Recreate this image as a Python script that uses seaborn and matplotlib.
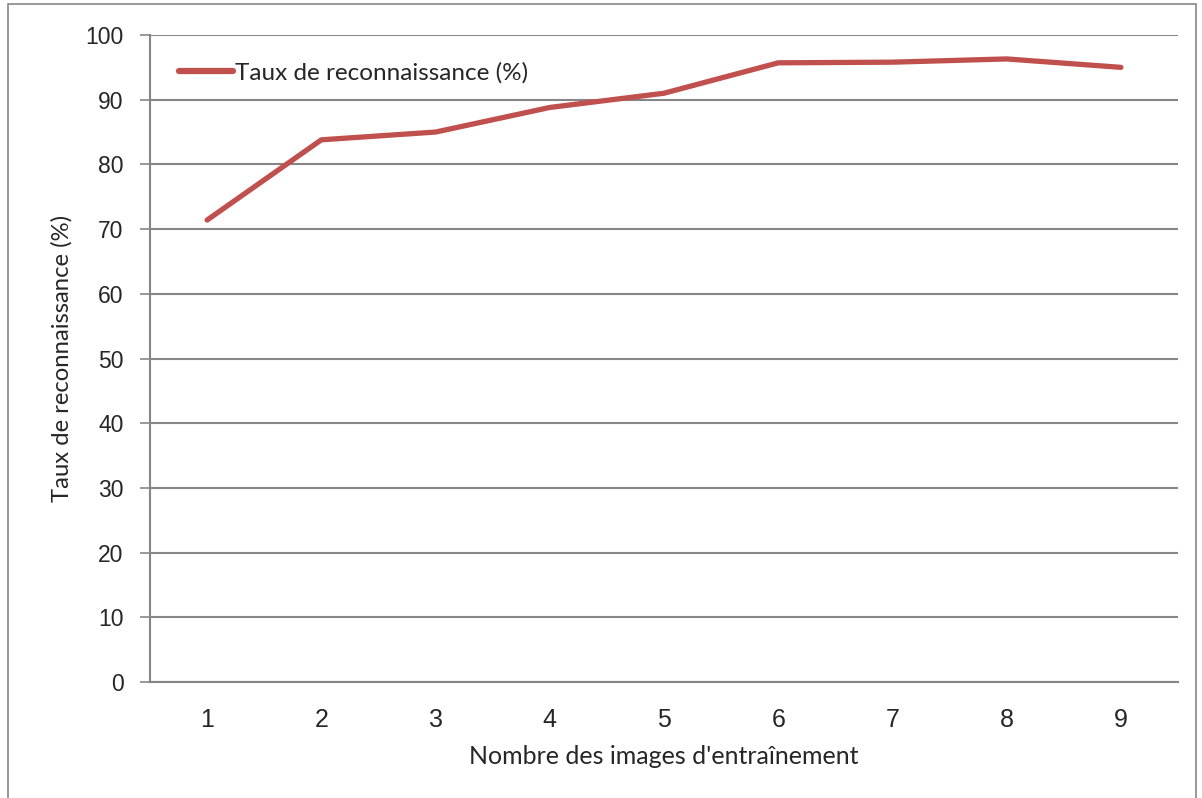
import matplotlib
matplotlib.use("Agg")
import matplotlib.pyplot as plt
import seaborn as sns
import pandas as pd
from matplotlib.patches import Rectangle

# Data
nb_images = [1, 2, 3, 4, 5, 6, 7, 8, 9]
taux = [71.4, 83.8, 85.0, 88.8, 91.0, 95.7, 95.8, 96.3, 95.0]
serie = "Taux de reconnaissance (%)"
y_ticks = [0, 10, 20, 30, 40, 50, 60, 70, 80, 90, 100]

df = pd.DataFrame({"x": nb_images, "y": taux, "serie": serie})

sns.set_theme(style="white")
plt.rcParams["font.family"] = ["Lato", "DejaVu Sans"]

grey = "#868686"
fig = plt.figure(figsize=(12.02, 7.98), dpi=100)
ax = fig.add_axes([150 / 1202, 1 - 682 / 798, (1178 - 150) / 1202, (682 - 35) / 798])

sns.lineplot(data=df, x="x", y="y", hue="serie", palette=["#C0504D"],
             linewidth=3.8, ax=ax, solid_capstyle="round", solid_joinstyle="round")

ax.set_xlim(0.5, 9.5)
ax.set_ylim(0, 100)
ax.set_yticks(y_ticks)
ax.set_yticklabels([str(v) for v in y_ticks], fontsize=16.5, family=["Liberation Sans"])
ax.set_xticks(nb_images)
ax.set_xticklabels([str(v) for v in nb_images], fontsize=18,
                   family=["Liberation Sans Narrow", "Liberation Sans"])
ax.set_xticks([v + 0.5 for v in range(0, 10)], minor=True)
ax.tick_params(axis="x", which="major", length=0, pad=19)
ax.tick_params(axis="x", which="minor", length=7, width=1.2, color=grey, direction="out")
ax.tick_params(axis="y", which="major", length=7, width=1.2, color=grey, direction="out", left=True, pad=12)

ax.yaxis.grid(True, color=grey, linewidth=1.5)
ax.xaxis.grid(False)
ax.set_axisbelow(True)

for side in ["top", "right"]:
    ax.spines[side].set_visible(False)
for side in ["left", "bottom"]:
    ax.spines[side].set_color(grey)
    ax.spines[side].set_linewidth(1.5)

ax.set_xlabel("Nombre des images d'entraînement", fontsize=18, labelpad=9)
ax.set_ylabel("Taux de reconnaissance (%)", fontsize=17.2, labelpad=9)

leg = ax.legend(loc="upper left", frameon=False, fontsize=17.5, handlelength=2.2,
                handletextpad=0.1, bbox_to_anchor=(0.012, 0.985), borderaxespad=0.3)
for h in leg.get_lines():
    h.set_linewidth(4.5)

# outer chart border
fig.patches.append(Rectangle((8 / 1202, -0.01), 1188 / 1202, 1 - 4 / 798 + 0.01,
                             transform=fig.transFigure, fill=False,
                             edgecolor=grey, linewidth=1.2))

fig.savefig("out.png", dpi=100)
